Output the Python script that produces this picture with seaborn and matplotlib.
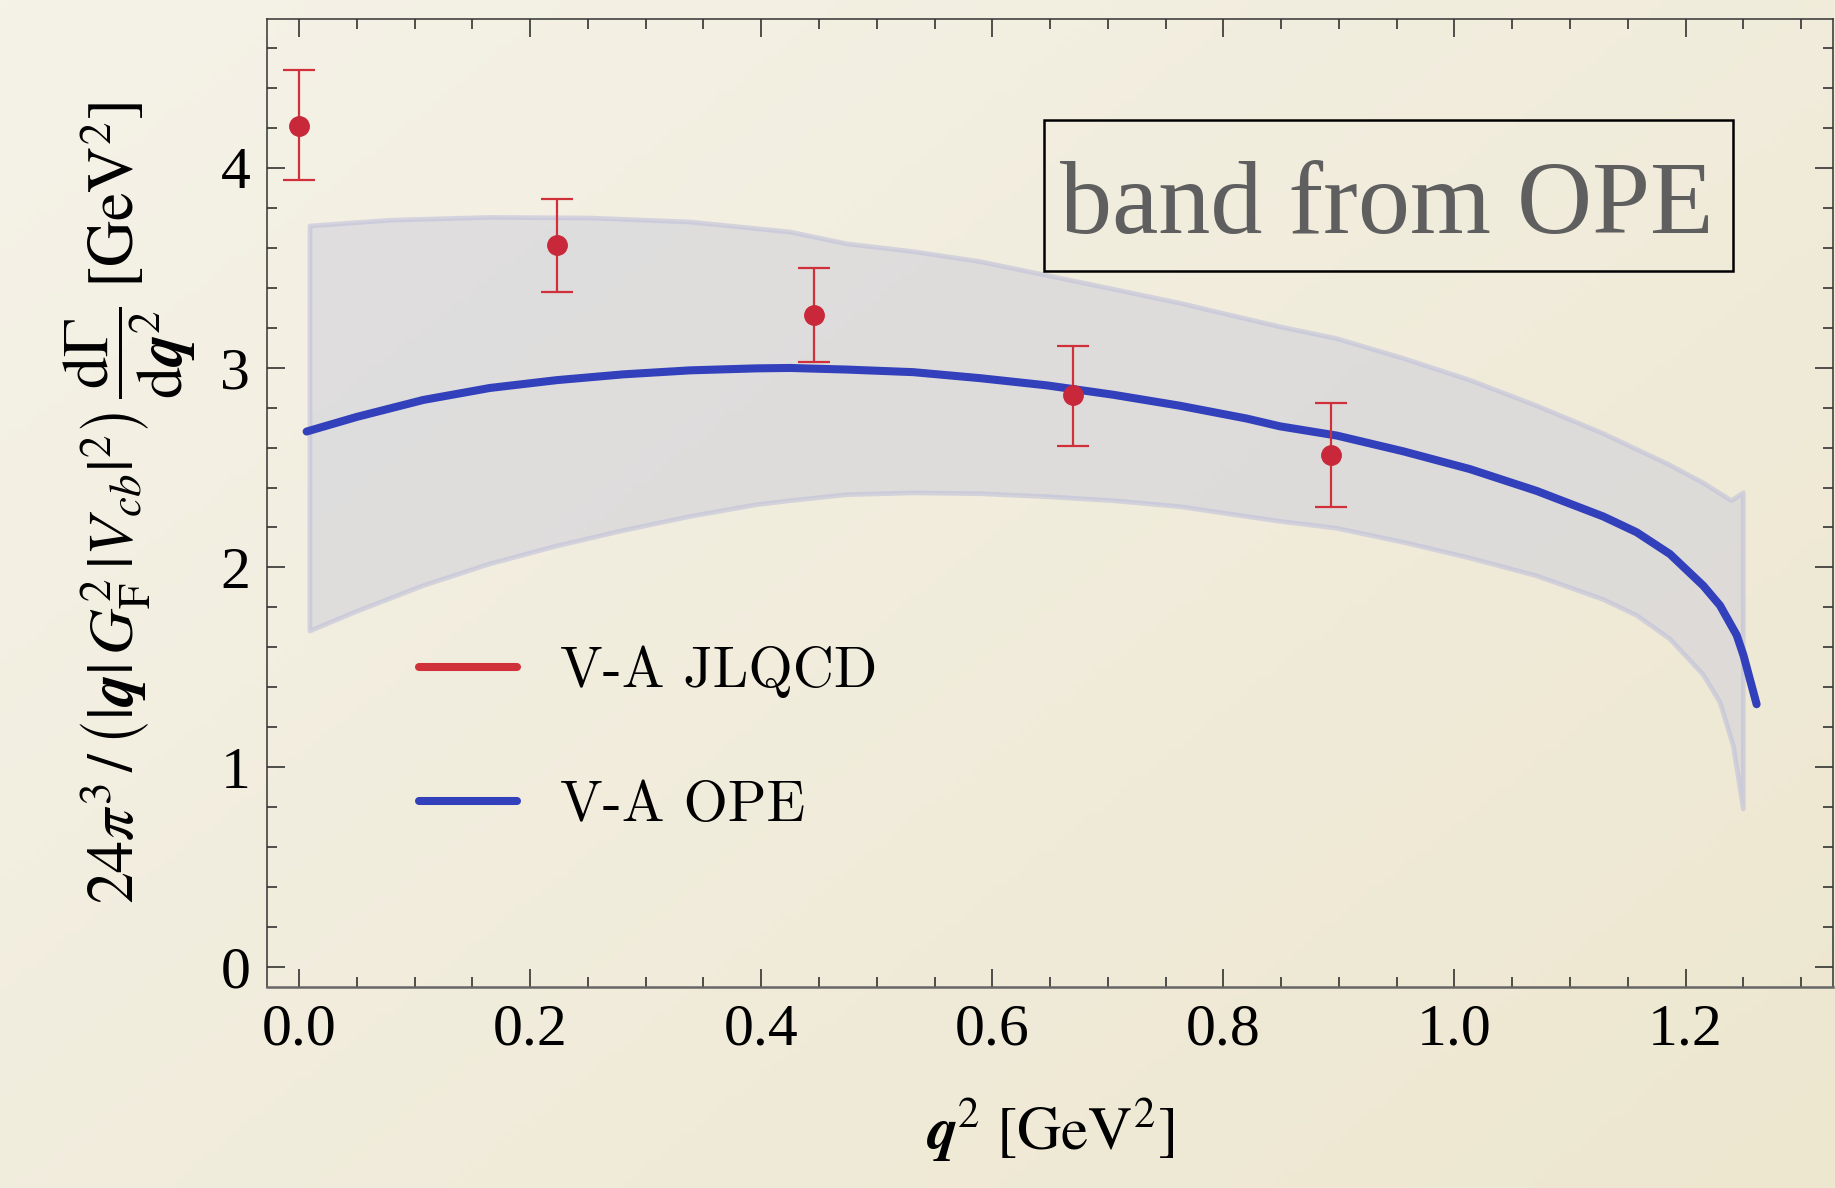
import numpy as np
import matplotlib
matplotlib.use("Agg")
import matplotlib.pyplot as plt
from matplotlib.lines import Line2D
from matplotlib.patches import Rectangle
from matplotlib.ticker import MultipleLocator, FormatStrFormatter
import seaborn as sns
import pandas as pd

# JLQCD lattice points (V-A channel)
q2_lat = [0.0, 0.223, 0.446, 0.670, 0.893]
dg_lat = [4.21, 3.611, 3.265, 2.861, 2.562]
dg_lat_hi = [4.49, 3.843, 3.496, 3.108, 2.824]
dg_lat_lo = [3.936, 3.380, 3.030, 2.610, 2.303]

# OPE central curve (V-A)
q2_ope = [0.0066, 0.0499, 0.1076, 0.1653, 0.223, 0.2807, 0.3384, 0.3961, 0.425,
          0.474, 0.5316, 0.5893, 0.6471, 0.7047, 0.7624, 0.8201, 0.849, 0.898,
          0.9557, 1.0134, 1.0711, 1.1288, 1.1577, 1.1865, 1.2153, 1.2298,
          1.2442, 1.250, 1.2615]
dg_ope = [2.680, 2.753, 2.838, 2.898, 2.937, 2.966, 2.986, 2.996, 2.998,
          2.990, 2.977, 2.947, 2.911, 2.864, 2.809, 2.745, 2.706, 2.660,
          2.581, 2.492, 2.383, 2.255, 2.176, 2.067, 1.909, 1.810,
          1.662, 1.563, 1.316]

# OPE uncertainty band edges
q2_band_hi = [0.0095, 0.0788, 0.1653, 0.2518, 0.3384, 0.425, 0.474, 0.5316,
              0.5893, 0.6471, 0.7047, 0.7624, 0.8201, 0.849, 0.898, 0.9557,
              1.0134, 1.0711, 1.1288, 1.1865, 1.2153, 1.2398, 1.250]
dg_band_hi = [3.708, 3.737, 3.751, 3.748, 3.728, 3.678, 3.619, 3.580,
              3.530, 3.461, 3.392, 3.322, 3.243, 3.204, 3.145, 3.046,
              2.937, 2.809, 2.670, 2.512, 2.423, 2.334, 2.374]
q2_band_lo = [0.0095, 0.0499, 0.1076, 0.1653, 0.223, 0.2807, 0.3384, 0.3961,
              0.425, 0.474, 0.5316, 0.5893, 0.6471, 0.7047, 0.7624, 0.8201,
              0.849, 0.898, 0.9557, 1.0134, 1.0711, 1.1288, 1.1577, 1.1865,
              1.2153, 1.2298, 1.2413, 1.250]
dg_band_lo = [1.682, 1.780, 1.909, 2.018, 2.107, 2.185, 2.255, 2.314,
              2.334, 2.364, 2.373, 2.369, 2.354, 2.334, 2.304, 2.255,
              2.231, 2.196, 2.126, 2.047, 1.958, 1.840, 1.760, 1.642,
              1.464, 1.326, 1.108, 0.792]

x_ticks = [0.0, 0.2, 0.4, 0.6, 0.8, 1.0, 1.2]
y_ticks = [0, 1, 2, 3, 4]

RED = "#d0303a"
RED_DOT = "#c8283a"
BLUE = "#3340bb"

sns.set_theme(style="ticks")
plt.rcParams["font.family"] = ["Liberation Serif", "DejaVu Serif"]
plt.rcParams["mathtext.fontset"] = "stix"
plt.rcParams["text.color"] = "black"
plt.rcParams["axes.labelcolor"] = "black"

W, H, DPI = 1835, 1188, 100
fig = plt.figure(figsize=(W / DPI, H / DPI), dpi=DPI)

# paper-like background gradient
bg = fig.add_axes([0, 0, 1, 1], zorder=-10)
gx, gy = np.meshgrid(np.linspace(0, 1, 200), np.linspace(0, 1, 130))
t = np.clip(0.55 * gx + 0.45 * gy, 0, 1)[..., None]
c0 = np.array([245, 242, 232]) / 255.0
c1 = np.array([237, 231, 208]) / 255.0
bg.imshow(c0 * (1 - t) + c1 * t, aspect="auto", extent=[0, 1, 0, 1], origin="upper")
bg.axis("off")

ax = fig.add_axes([267 / W, 1 - 987 / H, (1833 - 267) / W, (987 - 19.3) / H])
ax.set_facecolor("none")

# uncertainty band
poly_x = np.concatenate([q2_band_hi, q2_band_lo[::-1]])
poly_y = np.concatenate([dg_band_hi, dg_band_lo[::-1]])
ax.fill(poly_x, poly_y, facecolor="#cfcfda", alpha=0.55, edgecolor="#bcbdda",
        linewidth=3.4, joinstyle="round", zorder=1)

# OPE curve
ope = pd.DataFrame({"q2": q2_ope, "dg": dg_ope})
sns.lineplot(data=ope, x="q2", y="dg", ax=ax, color=BLUE, linewidth=5.8,
             sort=False, estimator=None, zorder=3, legend=False)
for ln in ax.lines:
    ln.set_solid_joinstyle("round")

# lattice data with asymmetric error bars
yerr = [np.array(dg_lat) - np.array(dg_lat_lo), np.array(dg_lat_hi) - np.array(dg_lat)]
ax.errorbar(q2_lat, dg_lat, yerr=yerr, fmt="o", color=RED, ecolor=RED,
            markerfacecolor=RED_DOT, markeredgecolor=RED_DOT, markersize=14,
            elinewidth=1.6, capsize=11.5, capthick=1.6, zorder=4)

ax.set_xlim(-0.0277, 1.3276)
ax.set_ylim(-0.0985, 4.742)
ax.set_xticks(x_ticks)
ax.set_yticks(y_ticks)
ax.xaxis.set_major_formatter(FormatStrFormatter("%.1f"))
ax.yaxis.set_major_formatter(FormatStrFormatter("%d"))
ax.xaxis.set_minor_locator(MultipleLocator(0.05))
ax.yaxis.set_minor_locator(MultipleLocator(0.2))
ax.tick_params(which="both", direction="in", top=True, right=True,
               colors="#222222", labelcolor="black", width=1.1)
ax.tick_params(which="major", length=13, labelsize=43, pad=12)
ax.tick_params(which="minor", length=7.5)
for s in ax.spines.values():
    s.set_color("#333333")
    s.set_linewidth(1.1)
ax.spines["bottom"].set_color("#666666")
ax.spines["bottom"].set_linewidth(1.8)

ax.set_xlabel(r"$\boldsymbol{q}^2\ [\mathrm{GeV}^2]$", fontsize=44, labelpad=28,
              color="black")
ax.set_ylabel(r"$24\pi^3\,/\,\left(|\boldsymbol{q}|\,G_{\mathrm{F}}^2\,|V_{cb}|^2\right)\,"
              r"\dfrac{\mathrm{d}\Gamma}{\mathrm{d}\boldsymbol{q}^2}\;[\mathrm{GeV}^2]$",
              fontsize=46, labelpad=16, color="black")

# legend
handles = [Line2D([], [], color=RED, linewidth=5.8),
           Line2D([], [], color=BLUE, linewidth=5.8)]
ax.legend(handles, ["V-A JLQCD", "V-A OPE"], loc="center left",
          bbox_to_anchor=((419 - 267) / 1566, (987 - 738.5) / 968),
          frameon=False, prop={"family": "cmr10", "size": 41},
          labelcolor="black", handlelength=1.72, handletextpad=0.76,
          labelspacing=1.46, borderpad=0, borderaxespad=0)

# annotation box
ax.add_patch(Rectangle((0.4962, 0.7397), 0.9362 - 0.4962, 0.8957 - 0.7397,
                       transform=ax.transAxes, fill=False, edgecolor="black",
                       linewidth=1.8, zorder=5))
ax.text(0.7152, (987 - 233) / 968, "band from OPE", transform=ax.transAxes,
        ha="center", va="baseline", fontsize=75, color="#5f5f5f", zorder=6)

fig.savefig("out.png", dpi=DPI)
